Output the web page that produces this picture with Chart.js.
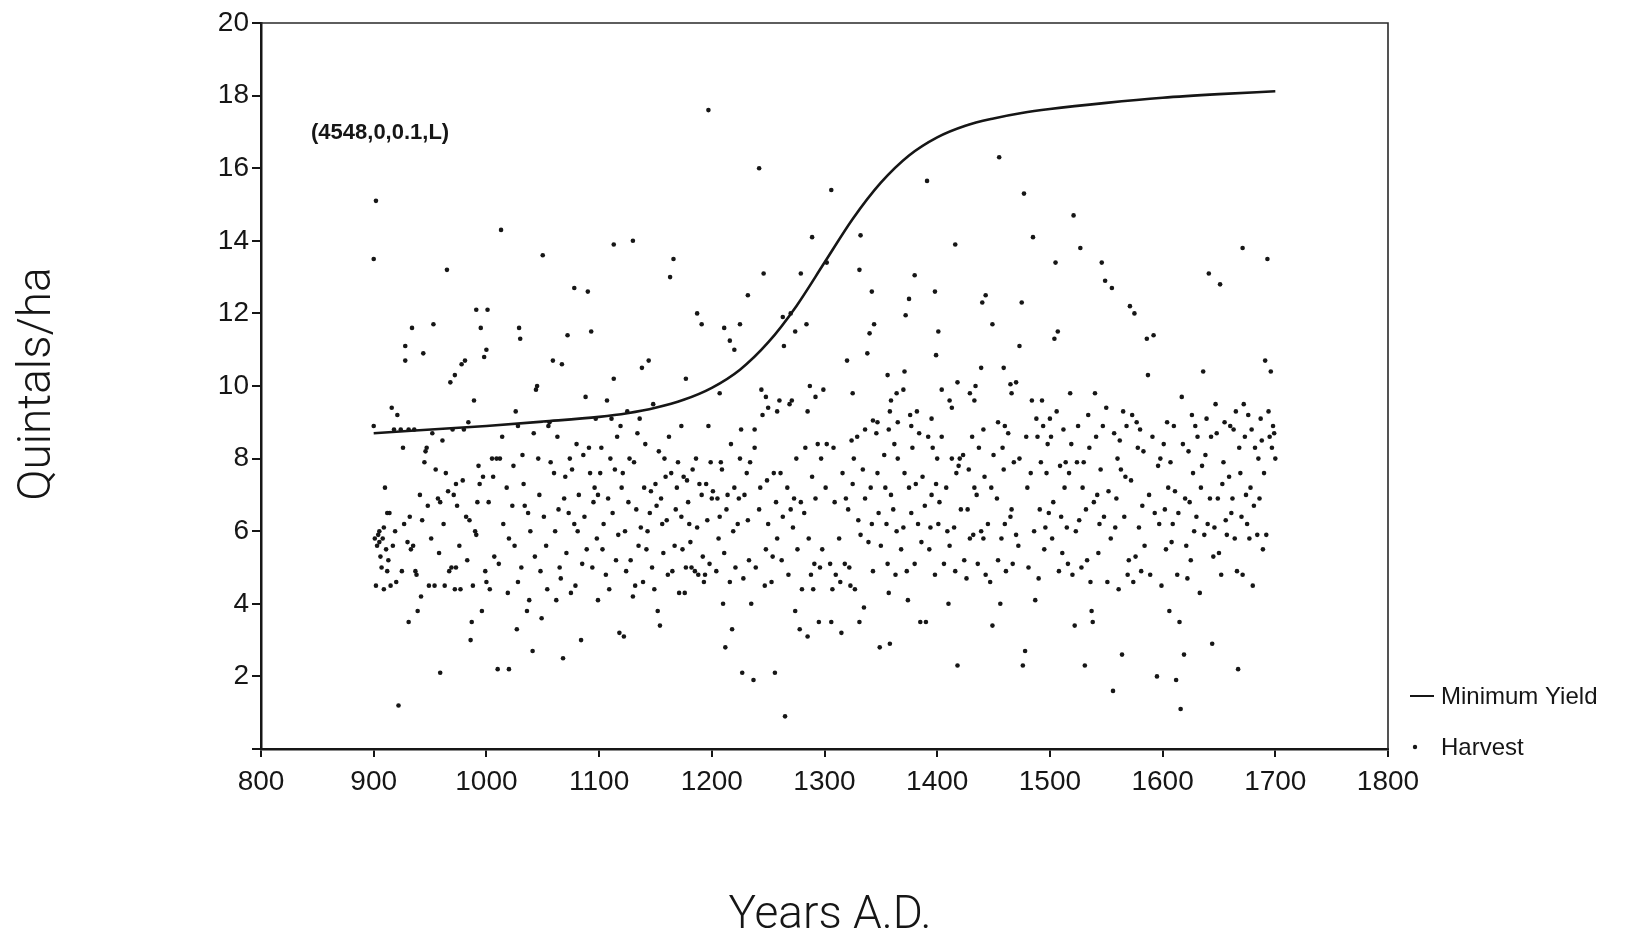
<!DOCTYPE html>
<html lang="en">
<head>
    <meta charset="UTF-8">
    <title>Minimum Yield and Harvest</title>
    <style>
        html, body {
            margin: 0;
            padding: 0;
            background: #ffffff;
        }
        #wrap {
            position: relative;
            width: 1627px;
            height: 937px;
        }
    </style>
</head>
<body>
    <div id="wrap"><canvas id="chart" width="1627" height="937"></canvas></div>
    <script src="https://cdn.jsdelivr.net/npm/chart.js"></script>
    <script>
        // Minimum yield curve (quintals/ha)
        const curveYears  = [900, 1000, 1050, 1100, 1125, 1150, 1175, 1200, 1225, 1250, 1275, 1300, 1325, 1350, 1375, 1400, 1425, 1450, 1475, 1500, 1550, 1600, 1650, 1700];
        const curveValues = [8.7, 8.9, 9.02, 9.15, 9.25, 9.4, 9.62, 9.95, 10.45, 11.2, 12.2, 13.4, 14.6, 15.6, 16.35, 16.85, 17.17, 17.37, 17.52, 17.63, 17.8, 17.94, 18.04, 18.12];

        // Harvests, [year, quintals/ha], one list per century
        const harvest900s = [[900,13.5],[900,8.9],[901,5.8],[902,4.5],[902,15.1],[903,5.6],[904,5.9],[905,6.0],[905,5.7],[906,5.3],[907,5.0],[908,5.8],[909,6.1],[909,4.4],[910,7.2],[911,5.5],[912,6.5],[912,4.9],[913,5.2],[914,6.5],[915,4.5],[916,9.4],[917,5.6],[918,8.8],[919,6.0],[920,4.6],[921,9.2],[922,1.2],[924,8.8],[925,4.9],[926,8.3],[927,6.2],[928,10.7],[928,11.1],[930,5.7],[931,8.8],[931,3.5],[932,6.4],[933,5.5],[934,11.6],[935,5.6],[936,8.8],[937,4.9],[938,4.8],[939,3.8],[941,7.0],[942,4.2],[943,6.3],[944,10.9],[945,7.9],[946,8.2],[947,8.3],[948,6.7],[949,4.5],[951,5.8],[952,8.7],[953,11.7],[954,4.5],[955,7.7],[957,6.9],[958,5.4],[959,6.8],[959,2.1],[961,8.5],[962,6.2],[963,4.5],[964,7.6],[965,13.2],[966,7.1],[967,4.9],[968,10.1],[969,5.0],[970,8.8],[971,7.0],[972,10.3],[972,4.4],[973,7.3],[973,5.0],[974,6.7],[976,5.6],[977,4.4],[978,10.6],[979,7.4],[980,8.8],[981,10.7],[982,6.4],[983,5.2],[984,9.0],[985,6.3],[986,3.0],[987,3.5],[988,4.5],[989,9.6],[990,6.0],[991,12.1],[991,5.9],[992,6.8],[993,7.8],[994,7.3],[995,11.6],[996,3.8],[997,7.5],[998,10.8],[999,4.9]];
        const harvest1000s = [[1000,11.0],[1000,4.6],[1001,12.1],[1002,6.8],[1003,4.4],[1005,8.0],[1006,7.5],[1007,5.3],[1009,8.0],[1010,2.2],[1011,5.1],[1012,8.0],[1013,14.3],[1014,8.6],[1015,6.2],[1018,7.2],[1019,4.3],[1020,2.2],[1020,5.8],[1023,6.7],[1024,7.8],[1025,5.6],[1026,9.3],[1027,3.3],[1028,4.6],[1028,8.9],[1029,11.6],[1030,11.3],[1031,5.0],[1032,8.1],[1033,7.3],[1034,6.7],[1036,3.8],[1037,6.5],[1038,4.1],[1039,6.0],[1041,2.7],[1042,8.7],[1043,5.3],[1044,9.9],[1045,10.0],[1046,8.0],[1047,7.0],[1048,4.9],[1049,3.6],[1050,13.6],[1051,6.4],[1053,5.6],[1054,4.4],[1055,8.9],[1056,9.0],[1057,7.9],[1059,10.7],[1060,7.6],[1061,6.0],[1062,4.1],[1063,8.6],[1064,6.6],[1065,5.0],[1066,4.7],[1067,10.6],[1068,2.5],[1069,6.9],[1070,7.5],[1071,5.4],[1072,11.4],[1073,6.5],[1074,8.0],[1075,4.3],[1076,7.7],[1078,12.7],[1078,6.2],[1079,4.5],[1080,8.4],[1081,6.0],[1082,7.0],[1084,3.0],[1085,5.1],[1086,8.1],[1087,6.4],[1088,9.7],[1089,5.5],[1090,12.6],[1091,8.3],[1092,7.6],[1093,11.5],[1094,5.0],[1095,6.8],[1096,7.2],[1097,9.1],[1098,5.8],[1099,4.1],[1099,7.0]];
        const harvest1100s = [[1101,7.6],[1102,8.3],[1103,5.5],[1104,6.2],[1106,4.8],[1107,9.6],[1108,6.9],[1109,4.4],[1110,8.0],[1111,9.1],[1112,6.5],[1113,13.9],[1113,10.2],[1114,7.7],[1115,5.2],[1116,8.6],[1117,5.9],[1118,3.2],[1119,8.9],[1120,7.2],[1121,7.6],[1122,3.1],[1123,6.0],[1124,4.9],[1125,9.3],[1126,6.8],[1127,8.0],[1128,5.2],[1130,14.0],[1130,4.2],[1131,7.9],[1132,4.5],[1133,6.6],[1134,8.7],[1135,5.6],[1136,9.1],[1137,6.1],[1138,10.5],[1139,4.6],[1140,7.2],[1141,8.4],[1142,5.5],[1143,6.0],[1144,10.7],[1145,6.5],[1146,7.1],[1147,5.0],[1148,9.5],[1149,4.4],[1150,7.3],[1151,6.7],[1152,3.8],[1153,8.2],[1154,3.4],[1155,6.9],[1156,6.2],[1157,5.4],[1158,8.0],[1159,7.5],[1160,6.3],[1161,4.8],[1162,8.6],[1163,13.0],[1164,7.6],[1165,4.9],[1166,13.5],[1167,5.6],[1168,6.6],[1169,7.2],[1170,7.9],[1171,4.3],[1173,8.9],[1173,6.4],[1174,5.5],[1175,7.5],[1176,4.3],[1177,10.2],[1177,5.0],[1178,7.4],[1179,6.8],[1180,6.2],[1181,5.7],[1182,5.0],[1183,7.7],[1185,4.9],[1186,8.0],[1187,12.0],[1187,6.1],[1188,4.8],[1189,7.3],[1191,11.7],[1191,7.0],[1192,5.3],[1193,4.6],[1194,4.8],[1195,7.3],[1196,6.3],[1197,17.6],[1197,8.9],[1198,5.1],[1199,7.9],[1200,6.9]];
        const harvest1200s = [[1201,7.1],[1204,4.9],[1205,6.9],[1206,5.8],[1207,9.8],[1207,6.4],[1208,7.9],[1209,7.7],[1210,4.0],[1211,11.6],[1211,5.4],[1212,2.8],[1213,6.6],[1214,7.0],[1216,11.25],[1216,4.6],[1217,8.4],[1218,3.3],[1219,6.0],[1220,11.0],[1220,7.2],[1221,5.0],[1223,6.2],[1224,6.9],[1225,11.7],[1225,8.0],[1226,8.8],[1227,2.1],[1228,4.7],[1229,7.0],[1231,7.6],[1232,12.5],[1232,6.3],[1233,5.2],[1234,7.9],[1235,4.0],[1237,1.9],[1238,8.8],[1238,8.3],[1239,5.0],[1242,16.0],[1242,6.6],[1243,7.2],[1244,9.9],[1245,9.2],[1246,13.1],[1247,4.5],[1248,9.7],[1248,5.5],[1249,7.4],[1250,9.4],[1250,6.2],[1253,4.6],[1254,5.3],[1255,7.6],[1256,2.1],[1257,6.8],[1258,9.3],[1258,5.8],[1260,9.6],[1261,7.6],[1262,5.2],[1263,11.9],[1263,6.4],[1264,11.1],[1265,0.9],[1267,7.2],[1268,4.8],[1269,9.5],[1270,12.0],[1270,6.6],[1271,9.6],[1272,6.1],[1273,6.9],[1274,11.5],[1274,3.8],[1275,8.0],[1276,5.5],[1278,3.3],[1279,13.1],[1279,6.8],[1280,4.4],[1282,6.5],[1283,8.3],[1284,11.7],[1285,9.3],[1285,3.1],[1286,5.8],[1287,10.0],[1288,4.8],[1289,14.1],[1289,7.5],[1290,4.4],[1291,5.1],[1292,9.7],[1292,6.9],[1294,8.4],[1295,3.5],[1296,5.0],[1297,8.0],[1298,5.5],[1299,9.9]];
        const harvest1300s = [[1301,7.2],[1302,13.4],[1302,8.4],[1305,5.1],[1306,15.4],[1306,3.5],[1307,4.4],[1308,8.3],[1309,6.8],[1310,4.8],[1313,5.8],[1314,4.6],[1315,3.2],[1316,7.6],[1318,5.1],[1319,6.9],[1320,10.7],[1321,6.6],[1322,5.0],[1323,4.5],[1324,8.5],[1325,9.8],[1325,7.3],[1326,8.0],[1327,4.4],[1329,8.6],[1330,6.3],[1331,13.2],[1331,3.5],[1332,14.15],[1332,5.9],[1334,7.7],[1335,3.9],[1336,8.8],[1336,6.9],[1338,10.9],[1339,5.7],[1340,11.45],[1341,7.2],[1342,12.6],[1342,6.2],[1343,9.05],[1343,4.9],[1344,11.7],[1346,8.7],[1347,9.0],[1347,7.6],[1348,6.5],[1349,2.8],[1350,5.6],[1353,8.1],[1354,7.2],[1355,6.2],[1356,10.3],[1356,5.1],[1357,8.8],[1357,4.3],[1358,9.3],[1358,2.9],[1359,9.6],[1359,7.0],[1361,6.6],[1362,8.4],[1363,4.8],[1364,9.8],[1364,6.0],[1365,9.0],[1365,8.0],[1368,5.5],[1370,9.9],[1370,6.1],[1371,10.4],[1371,7.6],[1372,11.95],[1373,4.9],[1374,4.1],[1375,12.4],[1375,7.2],[1376,9.2],[1377,8.9],[1377,6.5],[1378,8.3],[1380,13.05],[1380,5.1],[1381,7.3],[1382,9.3],[1383,6.2],[1384,8.7],[1385,3.5],[1386,5.7],[1387,7.5],[1389,6.7],[1390,3.5],[1391,15.65],[1392,8.6],[1393,5.5],[1394,6.1],[1395,9.1],[1395,7.0],[1396,8.3],[1398,12.6],[1398,4.8],[1399,10.85],[1399,7.3],[1400,8.0]];
        const harvest1400s = [[1401,11.5],[1401,6.2],[1402,6.8],[1404,9.9],[1404,8.6],[1406,5.1],[1408,7.2],[1409,6.0],[1410,4.0],[1411,9.6],[1411,5.6],[1413,9.4],[1413,8.0],[1415,6.1],[1416,13.9],[1416,4.9],[1417,7.6],[1418,10.1],[1418,2.3],[1419,7.8],[1420,8.0],[1421,6.6],[1423,8.1],[1424,5.2],[1426,4.7],[1427,6.6],[1428,7.7],[1429,9.8],[1429,5.8],[1431,8.6],[1432,5.9],[1433,9.6],[1433,7.2],[1434,10.0],[1435,7.0],[1436,5.1],[1437,8.3],[1439,10.5],[1439,6.0],[1440,12.3],[1441,8.8],[1441,5.8],[1442,7.5],[1443,12.5],[1443,4.8],[1445,6.2],[1447,4.6],[1448,7.2],[1449,3.4],[1449,11.7],[1450,8.1],[1453,6.9],[1454,9.0],[1454,5.2],[1455,16.3],[1456,4.0],[1457,5.8],[1458,8.3],[1459,10.5],[1459,7.7],[1460,8.9],[1460,6.2],[1461,4.9],[1463,8.7],[1465,10.05],[1465,6.4],[1466,9.8],[1466,6.6],[1467,5.1],[1468,7.9],[1470,10.1],[1470,5.9],[1472,5.6],[1473,11.1],[1473,8.0],[1475,12.3],[1476,2.3],[1477,15.3],[1478,2.7],[1479,8.6],[1480,7.2],[1481,5.0],[1483,7.6],[1484,9.6],[1485,14.1],[1486,6.0],[1487,4.1],[1488,9.1],[1489,8.6],[1490,4.7],[1491,6.6],[1492,7.9],[1493,9.6],[1494,8.9],[1495,5.5],[1496,6.1],[1497,7.6],[1498,8.4],[1499,6.5],[1500,9.1]];
        const harvest1500s = [[1501,8.6],[1502,5.8],[1503,6.8],[1504,11.3],[1505,13.4],[1506,9.3],[1507,11.5],[1508,4.9],[1509,7.8],[1510,6.4],[1511,5.4],[1512,8.8],[1513,7.2],[1514,7.9],[1515,6.1],[1516,5.1],[1517,7.6],[1518,9.8],[1519,8.4],[1520,4.8],[1521,14.7],[1522,3.4],[1523,6.0],[1524,7.9],[1525,8.9],[1526,6.3],[1527,13.8],[1528,5.0],[1529,7.2],[1530,7.9],[1531,2.3],[1532,6.6],[1533,5.2],[1534,9.2],[1535,8.3],[1536,4.6],[1537,3.8],[1538,3.5],[1539,6.8],[1540,9.8],[1541,8.6],[1542,7.0],[1543,5.4],[1544,6.2],[1545,7.7],[1546,13.4],[1547,8.9],[1548,6.4],[1549,12.9],[1550,9.4],[1551,4.6],[1552,7.1],[1554,5.8],[1555,12.7],[1556,1.6],[1557,8.7],[1558,6.1],[1559,6.9],[1560,8.0],[1561,4.4],[1562,8.5],[1563,7.7],[1564,2.6],[1565,9.3],[1566,6.4],[1567,7.5],[1568,8.9],[1569,4.8],[1570,5.2],[1571,12.2],[1572,7.4],[1573,9.2],[1574,4.6],[1575,12.0],[1576,5.3],[1577,9.0],[1578,8.3],[1579,6.1],[1580,8.8],[1581,4.9],[1582,6.7],[1583,8.2],[1584,5.6],[1586,11.3],[1587,10.3],[1588,7.0],[1589,4.8],[1591,8.6],[1592,11.4],[1593,6.5],[1595,2.0],[1596,7.8],[1597,6.2],[1598,8.0],[1599,4.5]];
        const harvest1600s = [[1601,8.4],[1602,6.6],[1603,5.5],[1604,9.0],[1605,7.2],[1606,3.8],[1607,7.9],[1608,5.7],[1609,6.2],[1610,8.9],[1611,7.1],[1612,1.9],[1613,4.8],[1614,6.5],[1615,3.5],[1616,1.1],[1617,9.7],[1618,8.4],[1619,2.6],[1620,6.9],[1621,5.6],[1622,4.7],[1623,8.2],[1624,6.8],[1625,5.2],[1626,9.2],[1627,7.6],[1628,6.0],[1629,8.9],[1630,6.4],[1631,8.6],[1633,4.3],[1634,7.2],[1635,7.8],[1636,10.4],[1637,5.9],[1638,8.1],[1639,9.1],[1640,6.2],[1641,13.1],[1642,6.9],[1643,8.6],[1644,2.9],[1645,5.3],[1646,6.1],[1647,9.5],[1648,8.7],[1649,6.9],[1650,5.4],[1651,12.8],[1652,4.8],[1653,7.3],[1654,7.9],[1655,9.0],[1656,6.3],[1657,5.9],[1659,7.5],[1660,8.9],[1661,6.5],[1662,6.9],[1663,8.8],[1664,5.8],[1665,9.3],[1666,4.9],[1667,2.2],[1668,8.3],[1669,7.6],[1670,6.4],[1671,13.8],[1671,4.8],[1672,9.5],[1673,8.6],[1674,7.0],[1675,6.2],[1676,9.2],[1677,5.8],[1678,7.2],[1679,8.8],[1680,4.5],[1681,6.7],[1682,8.3],[1684,5.9],[1685,8.0],[1686,6.9],[1687,9.1],[1688,8.5],[1689,5.5],[1690,7.6],[1691,10.7],[1692,5.9],[1693,13.5],[1694,9.3],[1695,8.6],[1696,10.4],[1697,8.3],[1698,8.9],[1699,8.7],[1700,8.0]];

        const harvests = [].concat(harvest900s, harvest1000s, harvest1100s, harvest1200s,
            harvest1300s, harvest1400s, harvest1500s, harvest1600s);

        const xTicks = [800, 900, 1000, 1100, 1200, 1300, 1400, 1500, 1600, 1700, 1800];
        const yTicks = [0, 2, 4, 6, 8, 10, 12, 14, 16, 18, 20];

        const runLabel = '(4548,0,0.1,L)';
        const xTitle = 'Years A.D.';
        const yTitle = 'Quintals/ha';
        const legendLine = 'Minimum Yield';
        const legendDot = 'Harvest';

        const ink = '#161616';
        const tickFont = { family: '"Liberation Sans", Arial, sans-serif', size: 28 };

        // frame, titles, run label and legend drawn straight on the canvas
        const decorations = {
            id: 'decorations',
            afterDraw(chart) {
                const { ctx, chartArea: a } = chart;
                ctx.save();
                ctx.strokeStyle = '#2a2a2a';
                ctx.lineWidth = 1.6;
                ctx.beginPath();
                ctx.moveTo(a.left, a.top);
                ctx.lineTo(a.right, a.top);
                ctx.lineTo(a.right, a.bottom);
                ctx.stroke();

                ctx.fillStyle = ink;
                ctx.textBaseline = 'middle';
                ctx.font = 'bold 22px "Liberation Sans", Arial, sans-serif';
                ctx.fillText(runLabel, 311, 133);

                // legend
                ctx.strokeStyle = ink;
                ctx.lineWidth = 2;
                ctx.beginPath();
                ctx.moveTo(1410, 696);
                ctx.lineTo(1434, 696);
                ctx.stroke();
                ctx.beginPath();
                ctx.arc(1415, 747, 2.2, 0, Math.PI * 2);
                ctx.fill();
                ctx.font = '24px "Liberation Sans", Arial, sans-serif';
                ctx.fillText(legendLine, 1441, 697);
                ctx.fillText(legendDot, 1441, 748);

                // axis titles
                ctx.textAlign = 'center';
                ctx.font = '300 46px Roboto, "Liberation Sans", sans-serif';
                ctx.fillText(xTitle, 830, 916);
                ctx.translate(38, 384);
                ctx.rotate(-Math.PI / 2);
                ctx.fillText(yTitle, 0, 0);
                ctx.restore();
            }
        };

        const chart = new Chart(document.getElementById('chart'), {
            type: 'scatter',
            data: {
                datasets: [
                    {
                        label: legendLine,
                        data: curveYears.map((x, i) => ({ x: x, y: curveValues[i] })),
                        showLine: true,
                        borderColor: ink,
                        borderWidth: 2.6,
                        pointRadius: 0,
                        cubicInterpolationMode: 'monotone'
                    },
                    {
                        label: legendDot,
                        data: harvests.map(p => ({ x: p[0], y: p[1] })),
                        backgroundColor: ink,
                        borderWidth: 0,
                        pointRadius: 2.3
                    }
                ]
            },
            plugins: [decorations],
            options: {
                responsive: false,
                animation: false,
                layout: { padding: { top: 23, right: 239, left: 0, bottom: 0 } },
                plugins: {
                    legend: { display: false },
                    tooltip: { enabled: false }
                },
                scales: {
                    x: {
                        type: 'linear',
                        min: 800,
                        max: 1800,
                        afterFit: scale => { scale.height = 188; },
                        afterBuildTicks: scale => { scale.ticks = xTicks.map(v => ({ value: v })); },
                        border: { color: ink, width: 2.5 },
                        grid: { drawOnChartArea: false, tickLength: 8, color: ink, lineWidth: 2 },
                        ticks: { color: ink, font: tickFont, padding: 8, maxRotation: 0, callback: v => String(v) }
                    },
                    y: {
                        min: 0,
                        max: 20,
                        afterFit: scale => { scale.width = 261; },
                        afterBuildTicks: scale => { scale.ticks = yTicks.map(v => ({ value: v })); },
                        border: { color: ink, width: 2.5 },
                        grid: { drawOnChartArea: false, tickLength: 9, color: ink, lineWidth: 2 },
                        ticks: {
                            color: ink,
                            font: tickFont,
                            padding: 3,
                            callback: v => (v === 0 ? '' : String(v))
                        }
                    }
                }
            }
        });
    </script>
</body>
</html>
